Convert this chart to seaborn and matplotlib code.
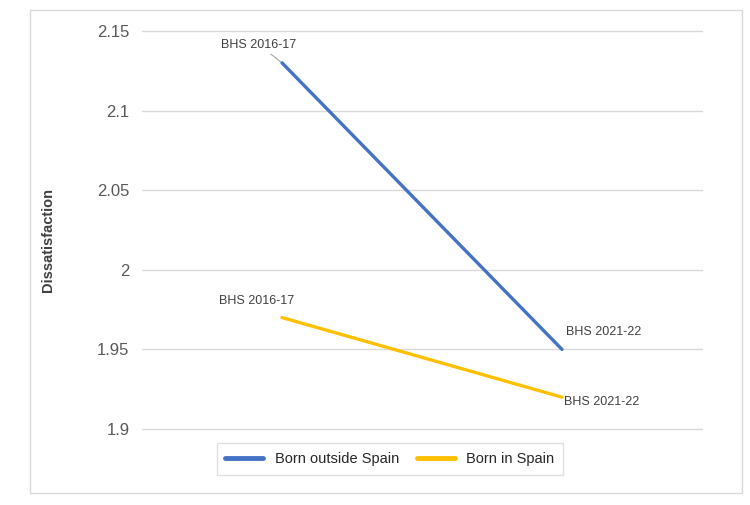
import matplotlib
matplotlib.use("Agg")
import matplotlib.pyplot as plt
import pandas as pd
import seaborn as sns
from matplotlib.patches import Rectangle

# --- chart data ---
periods = ["BHS 2016-17", "BHS 2021-22"]
born_outside = [2.13, 1.95]
born_spain = [1.97, 1.92]
series_names = ["Born outside Spain", "Born in Spain"]
y_ticks = [1.9, 1.95, 2.0, 2.05, 2.1, 2.15]
y_tick_labels = ["1.9", "1.95", "2", "2.05", "2.1", "2.15"]

COLORS = {"Born outside Spain": "#4472C4", "Born in Spain": "#FFC000"}

sns.set_style("white")
plt.rcParams["font.family"] = ["Liberation Sans", "DejaVu Sans"]

df = pd.DataFrame({
    "period": periods * 2,
    "pos": [0, 1] * 2,
    "value": born_outside + born_spain,
    "group": [series_names[0]] * 2 + [series_names[1]] * 2,
})

fig = plt.figure(figsize=(7.5, 5.05), dpi=100)
ax = fig.add_axes([142 / 750, 1 - 429 / 505, 560 / 750, 398 / 505])

sns.lineplot(data=df, x="pos", y="value", hue="group", palette=COLORS,
             linewidth=2.4, ax=ax, legend=False, sort=False)

ax.set_xlim(-0.5, 1.5)
ax.set_ylim(1.9, 2.15)
ax.set_xticks([])
ax.set_yticks(y_ticks)
ax.set_yticklabels(y_tick_labels, fontsize=12, color="#595959")
ax.tick_params(axis="y", length=0, pad=9)
ax.grid(axis="y", color="#d9d9d9", linewidth=1)
for gl in ax.get_ygridlines():
    gl.set_clip_on(False)
ax.set_axisbelow(True)
for s in ax.spines.values():
    s.set_visible(False)
ax.set_xlabel("")
ax.set_ylabel("Dissatisfaction", fontsize=10.5, fontweight="bold", color="#404040")
ax.yaxis.set_label_coords(-0.155, 0.475)

# point labels (offsets in pixels)
label_offsets = {
    (series_names[0], 0): (-23, 18),
    (series_names[1], 0): (-25, 17),
    (series_names[0], 1): (42, 17),
    (series_names[1], 1): (40, -5),
}
for _, row in df.iterrows():
    dx, dy = label_offsets[(row["group"], row["pos"])]
    arrow = None
    if row["group"] == series_names[0] and row["pos"] == 0:
        arrow = dict(arrowstyle="-", color="#a6a6a6", lw=0.8, shrinkA=0, shrinkB=1)
    ax.annotate(row["period"], (row["pos"], row["value"]), xytext=(dx, dy),
                textcoords="offset pixels", ha="center", va="center",
                fontsize=9, color="#404040", arrowprops=arrow)

# legend
handles = [plt.Line2D([0], [0], color=COLORS[n], lw=3.5) for n in series_names]
fig.legend(handles, series_names, loc="center", bbox_to_anchor=(390 / 750, 1 - 459 / 505),
           ncol=2, fontsize=10.5, frameon=True, fancybox=False, edgecolor="#d9d9d9",
           handlelength=2.6, columnspacing=1.2, borderpad=0.6, labelcolor="#262626")

# outer chart border
fig.patches.append(Rectangle((30 / 750, 1 - 493 / 505), 712 / 750, 483 / 505,
                             transform=fig.transFigure, fill=False,
                             edgecolor="#d9d9d9", linewidth=1))

fig.savefig("out.png", dpi=100)
